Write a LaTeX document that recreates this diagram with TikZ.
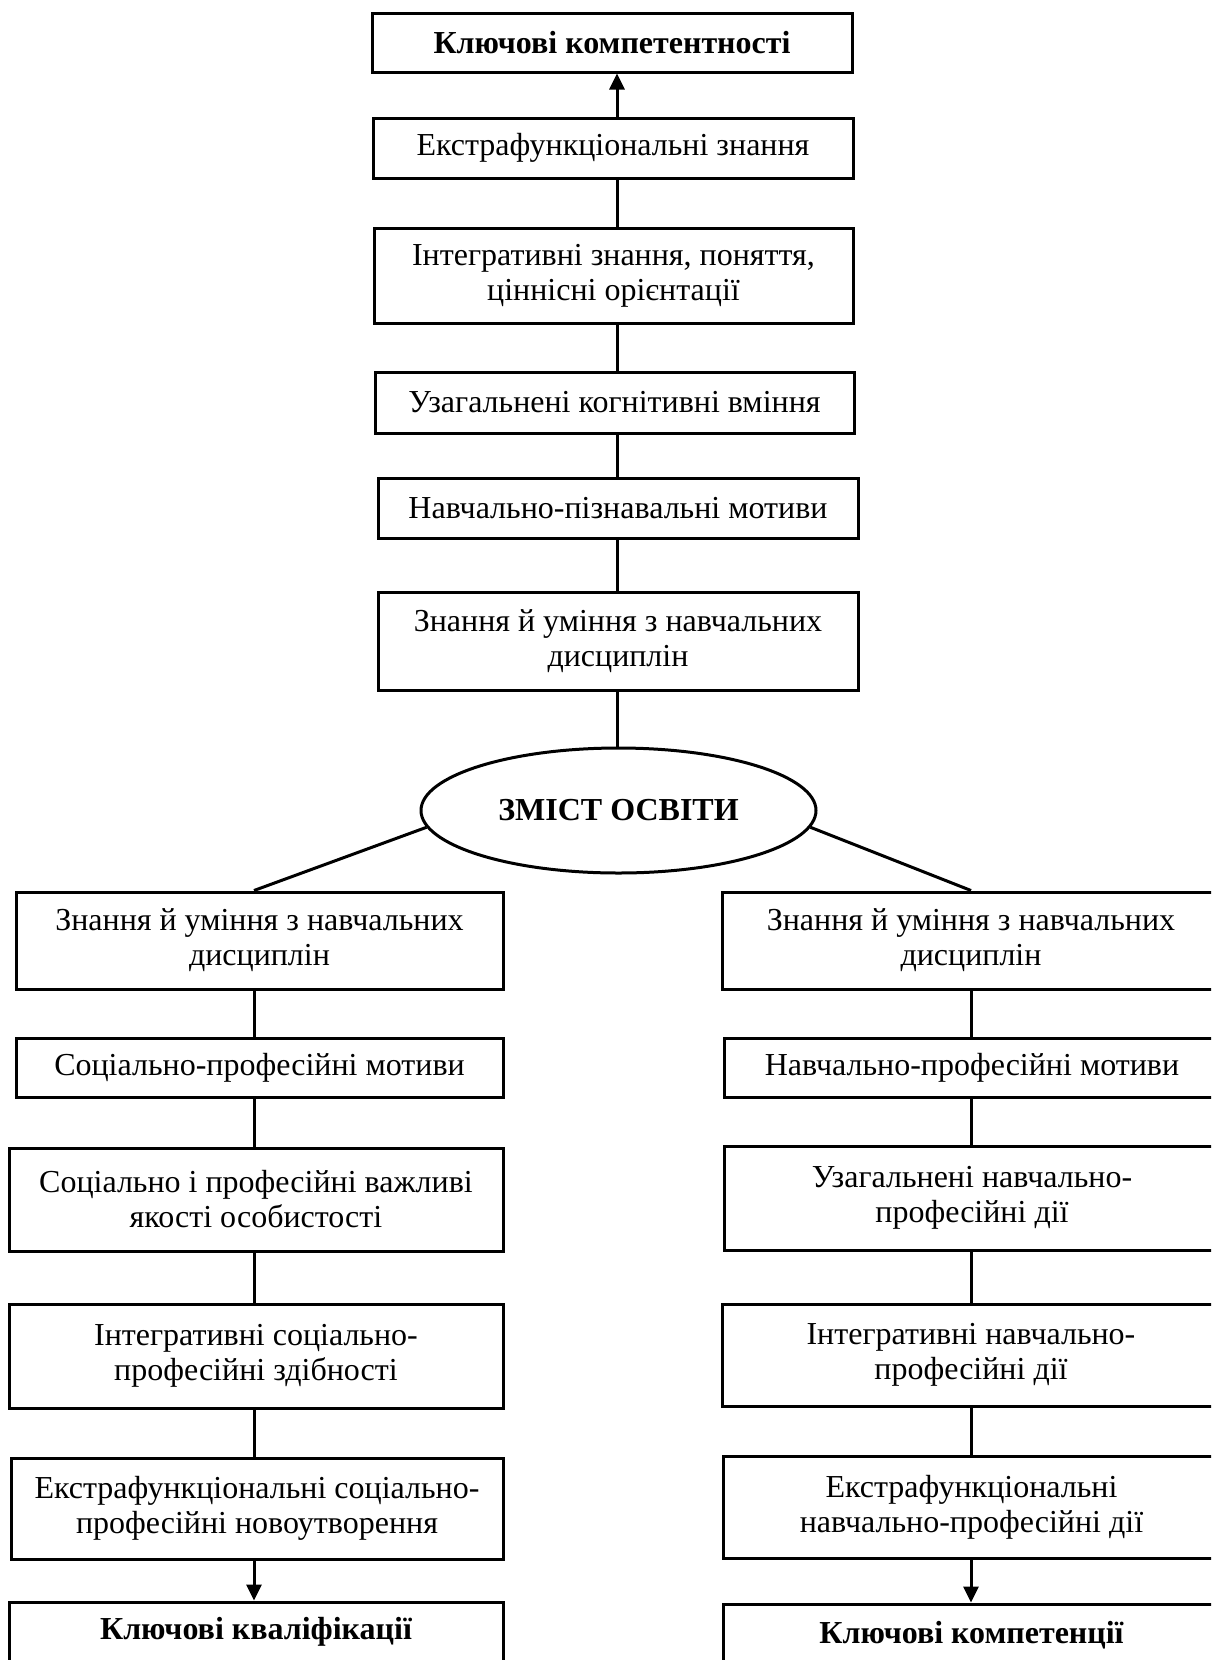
\documentclass[tikz,border=0pt]{standalone}
\usepackage{fontspec}
\setmainfont{Liberation Serif}
\usetikzlibrary{shapes.geometric,arrows.meta}
\begin{document}
\begin{tikzpicture}[x=1pt,y=-1pt,
  box/.style={draw, rectangle, line width=3pt, inner sep=0pt, align=center,
              font=\fontsize{32}{35}\selectfont},
  oval/.style={draw, ellipse, line width=3pt, inner sep=0pt,
               font=\fontsize{32}{35}\selectfont\bfseries},
  link/.style={line width=3pt},
  arrowlink/.style={line width=3pt, -{Triangle[length=16pt,width=15pt]}},
]
\useasboundingbox (0,0) rectangle (1211,1660);
\clip (0,0) rectangle (1211,1660);
\fill[white] (0,0) rectangle (1211,1660);

% column axes
\coordinate (axM) at (617,0);
\coordinate (axL) at (254,0);
\coordinate (axR) at (971,0);

% central column
\node[box, minimum width=480pt, minimum height=59pt] (K) at (612,42.5) {\bfseries Ключові компетентності};
\node[box, minimum width=480pt, minimum height=60pt] (E) at (613,148) {Екстрафункціональні знання};
\node[box, minimum width=479pt, minimum height=95pt] (I) at (613.5,275.5) {Інтегративні знання, поняття,\\ціннісні орієнтації};
\node[box, minimum width=479pt, minimum height=61pt] (U) at (614.5,402.5) {Узагальнені когнітивні вміння};
\node[box, minimum width=480pt, minimum height=60pt] (N) at (618,508) {Навчально-пізнавальні мотиви};
\node[box, minimum width=480pt, minimum height=98pt] (Z) at (618,641) {Знання й уміння з навчальних\\дисциплін};
\node[oval, minimum width=395pt, minimum height=125pt] (O) at (618.5,810.5) {ЗМІСТ ОСВІТИ};

% left column
\node[box, minimum width=487pt, minimum height=97pt] (L1) at (259.5,940.5) {Знання й уміння з навчальних\\дисциплін};
\node[box, minimum width=487pt, minimum height=59pt] (L2) at (259.5,1067.5) {Соціально-професійні мотиви};
\node[box, minimum width=494pt, minimum height=103pt] (L3) at (256,1199.5) {Соціально і професійні важливі\\якості особистості};
\node[box, minimum width=494pt, minimum height=104pt] (L4) at (256,1356) {Інтегративні соціально-\\професійні здібності};
\node[box, minimum width=492pt, minimum height=101pt] (L5) at (257,1508.5) {Екстрафункціональні соціально-\\професійні новоутворення};
\node[box, minimum width=494pt, minimum height=60pt] (L6) at (256,1632) {\bfseries Ключові кваліфікації};

% right column
\node[box, minimum width=498pt, minimum height=97pt] (R1) at (971,940.5) {Знання й уміння з навчальних\\дисциплін};
\node[box, minimum width=496pt, minimum height=59pt] (R2) at (972,1067.5) {Навчально-професійні мотиви};
\node[box, minimum width=496pt, minimum height=104pt] (R3) at (972,1198) {Узагальнені навчально-\\професійні дії};
\node[box, minimum width=498pt, minimum height=102pt] (R4) at (971,1355) {Інтегративні навчально-\\професійні дії};
\node[box, minimum width=497pt, minimum height=102pt] (R5) at (971.5,1507) {Екстрафункціональні\\навчально-професійні дії};
\node[box, minimum width=497pt, minimum height=62pt] (R6) at (971.5,1635) {\bfseries Ключові компетенції};

% central chain
\draw[arrowlink] (E.north -| axM) -- (K.south -| axM);
\draw[link] (I.north -| axM) -- (E.south -| axM);
\draw[link] (U.north -| axM) -- (I.south -| axM);
\draw[link] (N.north -| axM) -- (U.south -| axM);
\draw[link] (Z.north -| axM) -- (N.south -| axM);
\draw[link] (O.north -| axM) -- (Z.south -| axM);

% branches
\draw[link] (O.185) -- (L1.north -| axL);
\draw[link] (O.-5.5) -- (R1.north -| axR);

% left chain
\draw[link] (L1.south -| axL) -- (L2.north -| axL);
\draw[link] (L2.south -| axL) -- (L3.north -| axL);
\draw[link] (L3.south -| axL) -- (L4.north -| axL);
\draw[link] (L4.south -| axL) -- (L5.north -| axL);
\draw[arrowlink] (L5.south -| axL) -- (L6.north -| axL);

% right chain
\draw[link] (R1.south -| axR) -- (R2.north -| axR);
\draw[link] (R2.south -| axR) -- (R3.north -| axR);
\draw[link] (R3.south -| axR) -- (R4.north -| axR);
\draw[link] (R4.south -| axR) -- (R5.north -| axR);
\draw[arrowlink] (R5.south -| axR) -- (R6.north -| axR);
\end{tikzpicture}
\end{document}
